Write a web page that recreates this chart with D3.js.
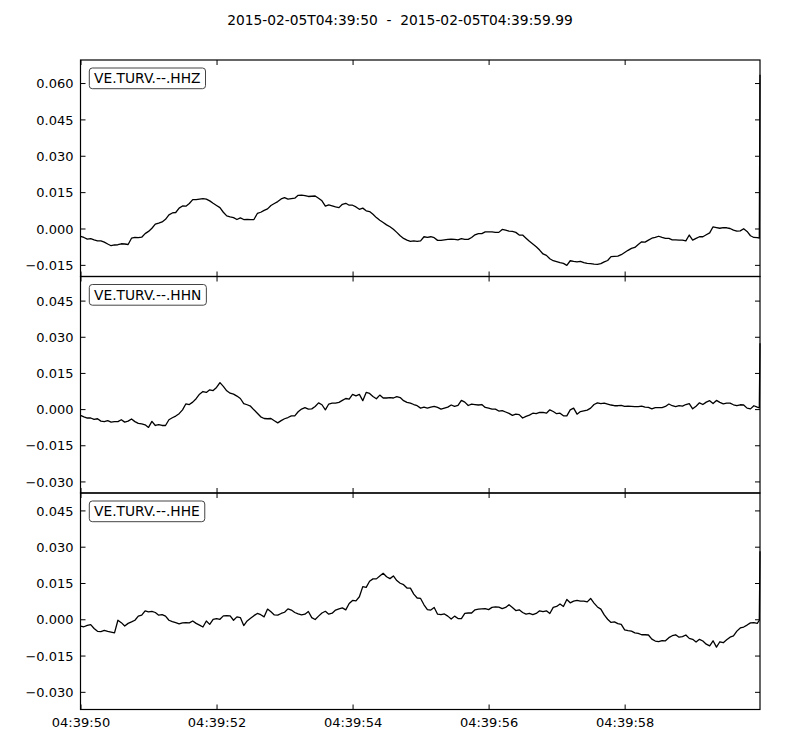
<!DOCTYPE html>
<html>
<head>
<meta charset="utf-8">
<script src="https://cdn.jsdelivr.net/npm/d3@7/dist/d3.min.js"></script>
<style>
  html, body { margin: 0; padding: 0; background: #fff; }
  svg { display: block; }
  text { font-family: "DejaVu Sans", sans-serif; fill: #000; }
</style>
</head>
<body>
<svg id="chart" width="800" height="750"></svg>
<script>
// ---------------- data ----------------
const title = "2015-02-05T04:39:50  -  2015-02-05T04:39:59.99";
const channels = ["VE.TURV.--.HHZ", "VE.TURV.--.HHN", "VE.TURV.--.HHE"];
const sampleStep = 0.05;               // s between read-off samples
const tailTimes = [9.98, 9.99];        // last samples (end spike)
const endTime = 9.99;
const xTickSeconds = [0, 2, 4, 6, 8];
const xTickLabels = ["04:39:50", "04:39:52", "04:39:54", "04:39:56", "04:39:58"];
const yTicksZ = [-0.015, 0, 0.015, 0.03, 0.045, 0.06];
const yTicksNE = [-0.03, -0.015, 0, 0.015, 0.03, 0.045];
const yDomainZ = [-0.0198, 0.0695];
const yDomainN = [-0.0348, 0.0550];
const yDomainE = [-0.0373, 0.0522];

const hhz = [
-3.3e-3,-3.7e-3,-4.4e-3,-4.2e-3,-4.7e-3,-5.1e-3,-5.1e-3,-5.6e-3,-6.4e-3,-7.1e-3,
-6.8e-3,-6.7e-3,-6.3e-3,-6.4e-3,-6.6e-3,-4.0e-3,-3.7e-3,-3.8e-3,-3.6e-3,-2.1e-3,
-1.2e-3,0.1e-3,1.8e-3,2.2e-3,2.7e-3,3.8e-3,5.6e-3,6.4e-3,6.6e-3,8.4e-3,
9.3e-3,9.2e-3,10.3e-3,11.9e-3,11.9e-3,12.1e-3,12.3e-3,12.1e-3,11.4e-3,10.4e-3,
9.5e-3,8.6e-3,6.7e-3,5.2e-3,4.8e-3,4.5e-3,3.7e-3,4.4e-3,3.7e-3,3.8e-3,
3.7e-3,3.7e-3,6.2e-3,6.7e-3,7.5e-3,8.1e-3,9.5e-3,10.3e-3,11.1e-3,12.2e-3,
12.7e-3,12.1e-3,12.3e-3,12.5e-3,13.7e-3,13.8e-3,13.6e-3,13.2e-3,13.3e-3,13.4e-3,
12.5e-3,11.4e-3,9.2e-3,9.7e-3,9.3e-3,8.9e-3,8.6e-3,10.0e-3,10.4e-3,9.6e-3,
9.6e-3,8.9e-3,7.9e-3,8.4e-3,7.3e-3,7.0e-3,5.9e-3,4.5e-3,3.4e-3,2.5e-3,
1.5e-3,0.7e-3,-0.3e-3,-1.6e-3,-3.0e-3,-4.1e-3,-4.8e-3,-5.3e-3,-5.1e-3,-5.3e-3,
-5.1e-3,-3.4e-3,-3.7e-3,-3.4e-3,-3.8e-3,-4.9e-3,-4.9e-3,-4.7e-3,-4.5e-3,-4.4e-3,
-4.5e-3,-4.7e-3,-4.2e-3,-4.5e-3,-4.5e-3,-3.7e-3,-2.6e-3,-2.1e-3,-2.1e-3,-1.4e-3,
-1.4e-3,-1.4e-3,-1.6e-3,-1.6e-3,-0.4e-3,-0.7e-3,-1.1e-3,-1.2e-3,-1.6e-3,-2.7e-3,
-2.7e-3,-4.0e-3,-5.3e-3,-6.4e-3,-7.5e-3,-8.9e-3,-10.5e-3,-11.1e-3,-12.5e-3,-13.3e-3,
-13.7e-3,-14.1e-3,-14.4e-3,-15.2e-3,-13.3e-3,-13.6e-3,-13.8e-3,-13.6e-3,-14.1e-3,-14.4e-3,
-14.5e-3,-14.7e-3,-14.8e-3,-14.5e-3,-13.8e-3,-13.2e-3,-11.6e-3,-11.5e-3,-11.4e-3,-10.8e-3,
-9.9e-3,-9.0e-3,-8.2e-3,-7.8e-3,-6.6e-3,-5.5e-3,-5.6e-3,-4.8e-3,-4.0e-3,-3.7e-3,
-3.2e-3,-3.7e-3,-4.1e-3,-4.1e-3,-4.7e-3,-4.7e-3,-4.8e-3,-4.8e-3,-5.1e-3,-2.7e-3,
-4.8e-3,-4.1e-3,-3.4e-3,-3.4e-3,-2.6e-3,-1.8e-3,0.7e-3,0.4e-3,0.1e-3,0.4e-3,
0.3e-3,0.0e-3,-0.7e-3,-1.1e-3,-1.0e-3,-0.1e-3,-1.2e-3,-3.0e-3,-3.7e-3,-3.8e-3
];
const hhzTail = [-4.0e-3, 63.4e-3];

const hhn = [
-2.6e-3,-3.2e-3,-3.7e-3,-3.7e-3,-4.3e-3,-4.0e-3,-5.0e-3,-5.2e-3,-4.8e-3,-5.4e-3,
-5.2e-3,-5.2e-3,-4.4e-3,-5.4e-3,-5.0e-3,-4.1e-3,-5.2e-3,-5.9e-3,-6.1e-3,-6.5e-3,
-7.6e-3,-5.1e-3,-6.8e-3,-6.4e-3,-6.8e-3,-6.8e-3,-4.4e-3,-3.6e-3,-2.9e-3,-1.9e-3,
-0.3e-3,2.2e-3,1.9e-3,2.9e-3,4.3e-3,6.2e-3,7.3e-3,6.9e-3,8.0e-3,7.7e-3,
9.0e-3,11.0e-3,9.4e-3,7.6e-3,6.6e-3,6.2e-3,5.4e-3,4.4e-3,2.3e-3,1.8e-3,
1.2e-3,-0.3e-3,-1.7e-3,-3.2e-3,-3.9e-3,-4.0e-3,-3.9e-3,-4.8e-3,-5.7e-3,-4.8e-3,
-4.0e-3,-3.5e-3,-2.8e-3,-2.8e-3,-1.1e-3,0.0e-3,0.6e-3,0.0e-3,0.1e-3,1.1e-3,
2.6e-3,1.8e-3,-0.3e-3,2.1e-3,2.5e-3,2.5e-3,2.8e-3,3.6e-3,4.4e-3,4.1e-3,
6.1e-3,5.5e-3,6.1e-3,3.5e-3,6.9e-3,6.5e-3,5.2e-3,4.3e-3,5.8e-3,4.6e-3,
4.6e-3,4.8e-3,4.6e-3,5.2e-3,4.8e-3,3.5e-3,2.8e-3,2.5e-3,1.9e-3,1.4e-3,
0.4e-3,0.8e-3,0.4e-3,0.8e-3,1.1e-3,0.7e-3,0.0e-3,0.4e-3,0.8e-3,1.7e-3,
1.1e-3,1.5e-3,3.6e-3,2.9e-3,1.5e-3,2.1e-3,1.9e-3,1.7e-3,1.9e-3,0.7e-3,
0.4e-3,0.0e-3,0.0e-3,-0.8e-3,-0.6e-3,-1.2e-3,-1.8e-3,-2.6e-3,-2.1e-3,-2.3e-3,
-3.7e-3,-3.0e-3,-2.5e-3,-1.7e-3,-1.9e-3,-1.4e-3,-1.4e-3,-1.7e-3,-0.3e-3,-1.0e-3,
-1.9e-3,-1.7e-3,-2.8e-3,-2.8e-3,-0.3e-3,0.4e-3,-2.1e-3,-1.0e-3,-0.7e-3,-0.4e-3,
0.4e-3,1.9e-3,2.6e-3,2.3e-3,2.5e-3,2.1e-3,1.7e-3,1.4e-3,1.4e-3,1.5e-3,
1.1e-3,1.2e-3,1.1e-3,1.0e-3,1.0e-3,1.2e-3,0.8e-3,0.7e-3,0.1e-3,0.6e-3,
0.6e-3,0.6e-3,1.1e-3,2.1e-3,1.4e-3,1.0e-3,1.4e-3,1.2e-3,1.9e-3,2.3e-3,
0.1e-3,1.2e-3,2.6e-3,1.9e-3,2.9e-3,3.5e-3,2.3e-3,3.6e-3,2.8e-3,2.2e-3,
2.5e-3,2.5e-3,1.8e-3,1.4e-3,1.8e-3,1.7e-3,0.4e-3,0.1e-3,1.4e-3,0.8e-3
];
const hhnTail = [0.5e-3, 27.3e-3];

const hhe = [
-2.8e-3,-3.1e-3,-2.5e-3,-2.2e-3,-3.8e-3,-5.0e-3,-5.1e-3,-4.6e-3,-5.0e-3,-5.3e-3,
-5.6e-3,-0.4e-3,-1.4e-3,-2.8e-3,-1.7e-3,-1.1e-3,-0.4e-3,1.3e-3,1.7e-3,3.5e-3,
3.1e-3,3.3e-3,2.8e-3,1.7e-3,1.9e-3,1.3e-3,-0.4e-3,-1.0e-3,-1.4e-3,-1.9e-3,
-1.5e-3,-1.4e-3,-1.5e-3,-0.7e-3,-1.7e-3,-2.4e-3,-3.2e-3,-0.7e-3,-2.1e-3,0.0e-3,
0.3e-3,0.0e-3,1.4e-3,1.5e-3,1.4e-3,-0.4e-3,1.0e-3,0.7e-3,-2.6e-3,-0.7e-3,
0.4e-3,1.5e-3,2.4e-3,1.9e-3,1.0e-3,4.2e-3,3.1e-3,1.8e-3,1.7e-3,2.4e-3,
2.9e-3,4.3e-3,3.8e-3,2.8e-3,2.2e-3,1.8e-3,2.1e-3,3.2e-3,0.7e-3,-0.1e-3,
1.3e-3,2.6e-3,3.3e-3,2.1e-3,2.5e-3,3.8e-3,4.3e-3,4.7e-3,3.9e-3,6.5e-3,
7.8e-3,7.6e-3,9.3e-3,13.5e-3,13.2e-3,15.7e-3,16.7e-3,16.7e-3,17.9e-3,19.0e-3,
17.6e-3,16.8e-3,17.9e-3,16.0e-3,14.9e-3,14.3e-3,12.9e-3,12.9e-3,10.4e-3,8.8e-3,
8.6e-3,6.0e-3,4.0e-3,3.8e-3,4.9e-3,2.1e-3,1.9e-3,2.2e-3,1.3e-3,0.1e-3,
1.3e-3,0.3e-3,0.3e-3,2.4e-3,2.6e-3,2.6e-3,3.9e-3,4.2e-3,4.3e-3,4.4e-3,
4.0e-3,4.9e-3,5.1e-3,5.0e-3,4.4e-3,4.9e-3,6.0e-3,4.9e-3,3.6e-3,3.9e-3,
2.8e-3,2.1e-3,2.4e-3,1.9e-3,2.4e-3,3.5e-3,3.2e-3,3.5e-3,2.4e-3,4.9e-3,
5.3e-3,6.3e-3,5.3e-3,8.2e-3,6.8e-3,7.5e-3,7.8e-3,7.5e-3,7.5e-3,7.2e-3,
8.6e-3,6.7e-3,5.1e-3,4.2e-3,1.8e-3,0.0e-3,-1.3e-3,-1.1e-3,-1.8e-3,-2.1e-3,
-4.4e-3,-4.7e-3,-4.9e-3,-5.6e-3,-5.8e-3,-6.4e-3,-6.4e-3,-6.5e-3,-8.2e-3,-9.0e-3,
-9.2e-3,-8.8e-3,-8.9e-3,-7.6e-3,-6.8e-3,-6.4e-3,-7.4e-3,-7.2e-3,-6.5e-3,-7.9e-3,
-8.3e-3,-9.4e-3,-8.3e-3,-9.0e-3,-10.3e-3,-11.0e-3,-8.9e-3,-11.5e-3,-9.3e-3,-9.7e-3,
-8.5e-3,-7.4e-3,-6.9e-3,-4.9e-3,-3.6e-3,-3.2e-3,-2.4e-3,-1.5e-3,-1.4e-3,-1.7e-3
];
const hheTail = [-0.4e-3, 28.1e-3];

// ---------------- layout ----------------
const left = 80.5, right = 760;
const top0 = 60, panelH = 216.5;
const tickLen = 5;

const panels = [
  { name: channels[0], values: hhz, tail: hhzTail, domain: yDomainZ, ticks: yTicksZ },
  { name: channels[1], values: hhn, tail: hhnTail, domain: yDomainN, ticks: yTicksNE },
  { name: channels[2], values: hhe, tail: hheTail, domain: yDomainE, ticks: yTicksNE }
];

const svg = d3.select("#chart");
const x = d3.scaleLinear().domain([0, endTime]).range([left, right]);
const fmtY = d3.format(".3f");

svg.append("text")
  .attr("x", 400).attr("y", 25)
  .attr("text-anchor", "middle")
  .attr("font-size", 13.8)
  .style("white-space", "pre")
  .attr("xml:space", "preserve")
  .text(title);

panels.forEach((p, k) => {
  const y0 = top0 + k * panelH, y1 = y0 + panelH;
  const y = d3.scaleLinear().domain(p.domain).range([y1, y0]);
  const g = svg.append("g");

  const clipId = "clip" + k;
  svg.append("clipPath").attr("id", clipId)
    .append("rect").attr("x", left).attr("y", y0)
    .attr("width", right - left + 1.5).attr("height", panelH);

  const pts = p.values.map((v, i) => [i * sampleStep, v])
    .concat(p.tail.map((v, j) => [tailTimes[j], v]));

  const line = d3.line().x(d => x(d[0])).y(d => y(d[1]));

  // frame
  g.append("rect")
    .attr("x", left).attr("y", y0)
    .attr("width", right - left).attr("height", panelH)
    .attr("fill", "none").attr("stroke", "#000").attr("stroke-width", 1.2);

  g.append("path")
    .datum(pts)
    .attr("clip-path", `url(#${clipId})`)
    .attr("fill", "none")
    .attr("stroke", "#000")
    .attr("stroke-width", 1.3)
    .attr("stroke-linejoin", "round")
    .attr("d", line);

  // y axis left (ticks inward) + labels
  const yAxisL = d3.axisLeft(y).tickValues(p.ticks).tickSizeInner(-tickLen)
    .tickSizeOuter(0).tickPadding(7).tickFormat(fmtY);
  const ga = g.append("g").attr("transform", `translate(${left},0)`).call(yAxisL);
  ga.select(".domain").remove();
  ga.selectAll("line").attr("stroke", "#000");
  ga.selectAll("text").attr("font-size", 13).attr("font-family", "DejaVu Sans")
    .attr("dy", "0.36em").attr("fill", "#000");

  // y axis right ticks
  const yAxisR = d3.axisRight(y).tickValues(p.ticks).tickSizeInner(-tickLen)
    .tickSizeOuter(0).tickFormat("");
  const gr = g.append("g").attr("transform", `translate(${right},0)`).call(yAxisR);
  gr.select(".domain").remove();
  gr.selectAll("line").attr("stroke", "#000");

  // x ticks top and bottom (inward)
  const xTop = d3.axisTop(x).tickValues(xTickSeconds).tickSizeInner(-tickLen)
    .tickSizeOuter(0).tickFormat("");
  const gt = g.append("g").attr("transform", `translate(0,${y0})`).call(xTop);
  gt.select(".domain").remove();
  gt.selectAll("line").attr("stroke", "#000");

  const xBot = d3.axisBottom(x).tickValues(xTickSeconds).tickSizeInner(-tickLen)
    .tickSizeOuter(0).tickPadding(8)
    .tickFormat((d, i) => k === panels.length - 1 ? xTickLabels[i] : "");
  const gb = g.append("g").attr("transform", `translate(0,${y1})`).call(xBot);
  gb.select(".domain").remove();
  gb.selectAll("line").attr("stroke", "#000");
  gb.selectAll("text").attr("font-size", 13).attr("font-family", "DejaVu Sans")
    .attr("dy", "0.71em").attr("fill", "#000");

  // channel label box
  const box = g.append("rect");
  const lbl = g.append("text")
    .attr("x", 94).attr("y", y0 + 23)
    .attr("font-size", 13.8)
    .text(p.name);
  const bb = lbl.node().getBBox();
  box.attr("x", bb.x - 4.7).attr("y", y0 + 8)
    .attr("width", bb.width + 9.7).attr("height", 20.7)
    .attr("rx", 3).attr("ry", 3)
    .attr("fill", "#fff").attr("stroke", "#444").attr("stroke-width", 1);
});
</script>
</body>
</html>
